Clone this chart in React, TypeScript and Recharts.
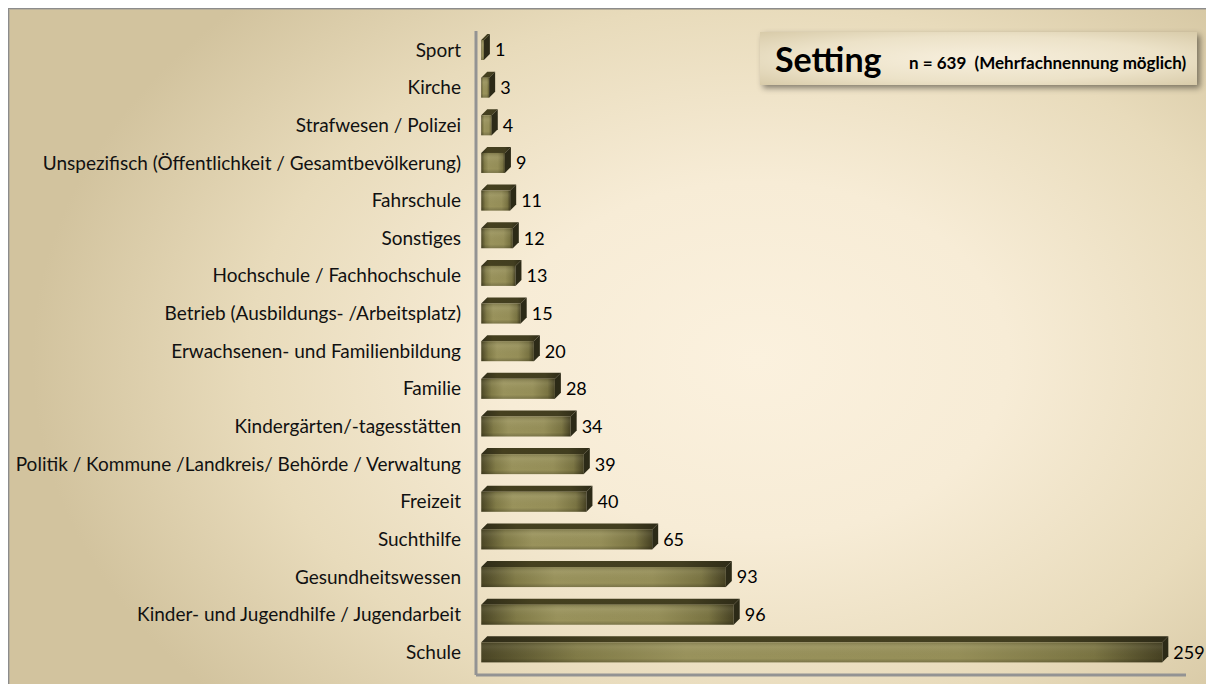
import React from 'react'
import { BarChart, Bar, XAxis, YAxis, LabelList } from 'recharts'

const categories = [
  'Sport',
  'Kirche',
  'Strafwesen / Polizei',
  'Unspezifisch (Öffentlichkeit / Gesamtbevölkerung)',
  'Fahrschule',
  'Sonstiges',
  'Hochschule / Fachhochschule',
  'Betrieb (Ausbildungs- /Arbeitsplatz)',
  'Erwachsenen- und Familienbildung',
  'Familie',
  'Kindergärten/-tagesstätten',
  'Politik / Kommune /Landkreis/ Behörde / Verwaltung',
  'Freizeit',
  'Suchthilfe',
  'Gesundheitswessen',
  'Kinder- und Jugendhilfe / Jugendarbeit',
  'Schule',
]

const counts = [1, 3, 4, 9, 11, 12, 13, 15, 20, 28, 34, 39, 40, 65, 93, 96, 259]

const title = 'Setting'
const subtitle = 'n = 639  (Mehrfachnennung möglich)'

const data = categories.map((name, i) => ({ name, value: counts[i] }))

const FONT = 'Lato, sans-serif'

// front face + slanted top face + dark right side
const Bar3D = (props: any) => {
  const { x, y, width, height } = props
  if (width == null || height == null) return null
  const d = 6
  const top = `${x},${y} ${x + d},${y - d} ${x + width + d},${y - d} ${x + width},${y}`
  const side = `${x + width},${y} ${x + width + d},${y - d} ${x + width + d},${y + height - d} ${x + width},${y + height}`
  return (
    <g>
      <polygon points={top} fill="url(#barTop)" />
      <rect x={x} y={y} width={width} height={height} fill="url(#barFront)" />
      <rect x={x} y={y} width={width} height={height} fill="url(#barShade)" />
      <polygon points={side} fill="#2c2a17" />
    </g>
  )
}

export default function App() {
  return (
    <div
      style={{
        position: 'relative',
        width: 1206,
        height: 676,
        background:
          'radial-gradient(ellipse 60% 75% at 62% 52%, #fbf1de 0%, #f7ecd6 35%, #e8dbbb 70%, #d2c39e 100%)',
        boxShadow: 'inset 1px 1px 0 #8c8c8c, inset 2px 2px 0 #b9b09a, -2px -2px 6px rgba(0,0,0,0.12)',
        fontFamily: FONT,
      }}
    >
      <BarChart
        width={1206}
        height={676}
        data={data}
        layout="vertical"
        margin={{ top: 23, right: 28, bottom: 0, left: 0 }}
        barSize={20}
      >
        <defs>
          <linearGradient id="barFront" x1="0" y1="0" x2="1" y2="0">
            <stop offset="0%" stopColor="#4a4524" />
            <stop offset="14%" stopColor="#817b47" />
            <stop offset="30%" stopColor="#9a935c" />
            <stop offset="70%" stopColor="#968f58" />
            <stop offset="90%" stopColor="#7a7442" />
            <stop offset="100%" stopColor="#464122" />
          </linearGradient>
          <linearGradient id="barShade" x1="0" y1="0" x2="0" y2="1">
            <stop offset="0%" stopColor="#000" stopOpacity={0.15} />
            <stop offset="25%" stopColor="#fff" stopOpacity={0.06} />
            <stop offset="80%" stopColor="#000" stopOpacity={0} />
            <stop offset="100%" stopColor="#000" stopOpacity={0.2} />
          </linearGradient>
          <linearGradient id="barTop" x1="0" y1="0" x2="1" y2="0">
            <stop offset="0%" stopColor="#2f2c18" />
            <stop offset="20%" stopColor="#45401f" />
            <stop offset="80%" stopColor="#423e20" />
            <stop offset="100%" stopColor="#2e2b17" />
          </linearGradient>
        </defs>
        <XAxis
          type="number"
          domain={[-2, 268]}
          allowDataOverflow
          tick={false}
          tickLine={false}
          height={9}
          axisLine={{ stroke: '#939393', strokeWidth: 3 }}
        />
        <YAxis
          type="category"
          dataKey="name"
          width={468}
          interval={0}
          tickLine={false}
          tickSize={6}
          tickMargin={9}
          padding={{ top: 0, bottom: 4 }}
          axisLine={{ stroke: '#939393', strokeWidth: 3 }}
          tick={{ fill: '#111', fontSize: 19, fontFamily: FONT }}
        />
        <Bar dataKey="value" shape={Bar3D} isAnimationActive={false}>
          <LabelList
            dataKey="value"
            position="right"
            offset={11}
            fill="#000"
            fontSize={18}
            fontFamily={FONT}
          />
        </Bar>
      </BarChart>
      <div
        style={{
          position: 'absolute',
          left: 752,
          top: 24,
          width: 437,
          height: 53,
          background: 'radial-gradient(ellipse at 50% 50%, #f7efdd 0%, #ece2c8 60%, #d8cba9 100%)',
          boxShadow: '3px 3px 6px rgba(0,0,0,0.45)',
        }}
      >
        <svg width={437} height={53} style={{ display: 'block' }}>
          <text x={15} y={40} fontFamily={FONT} fontWeight="bold" fontSize={34} fill="#000">
            {title}
          </text>
          <text
            x={149}
            y={37}
            fontFamily={FONT}
            fontWeight="bold"
            fontSize={17}
            fill="#000"
            style={{ whiteSpace: 'pre' }}
          >
            {subtitle}
          </text>
        </svg>
      </div>
    </div>
  )
}
